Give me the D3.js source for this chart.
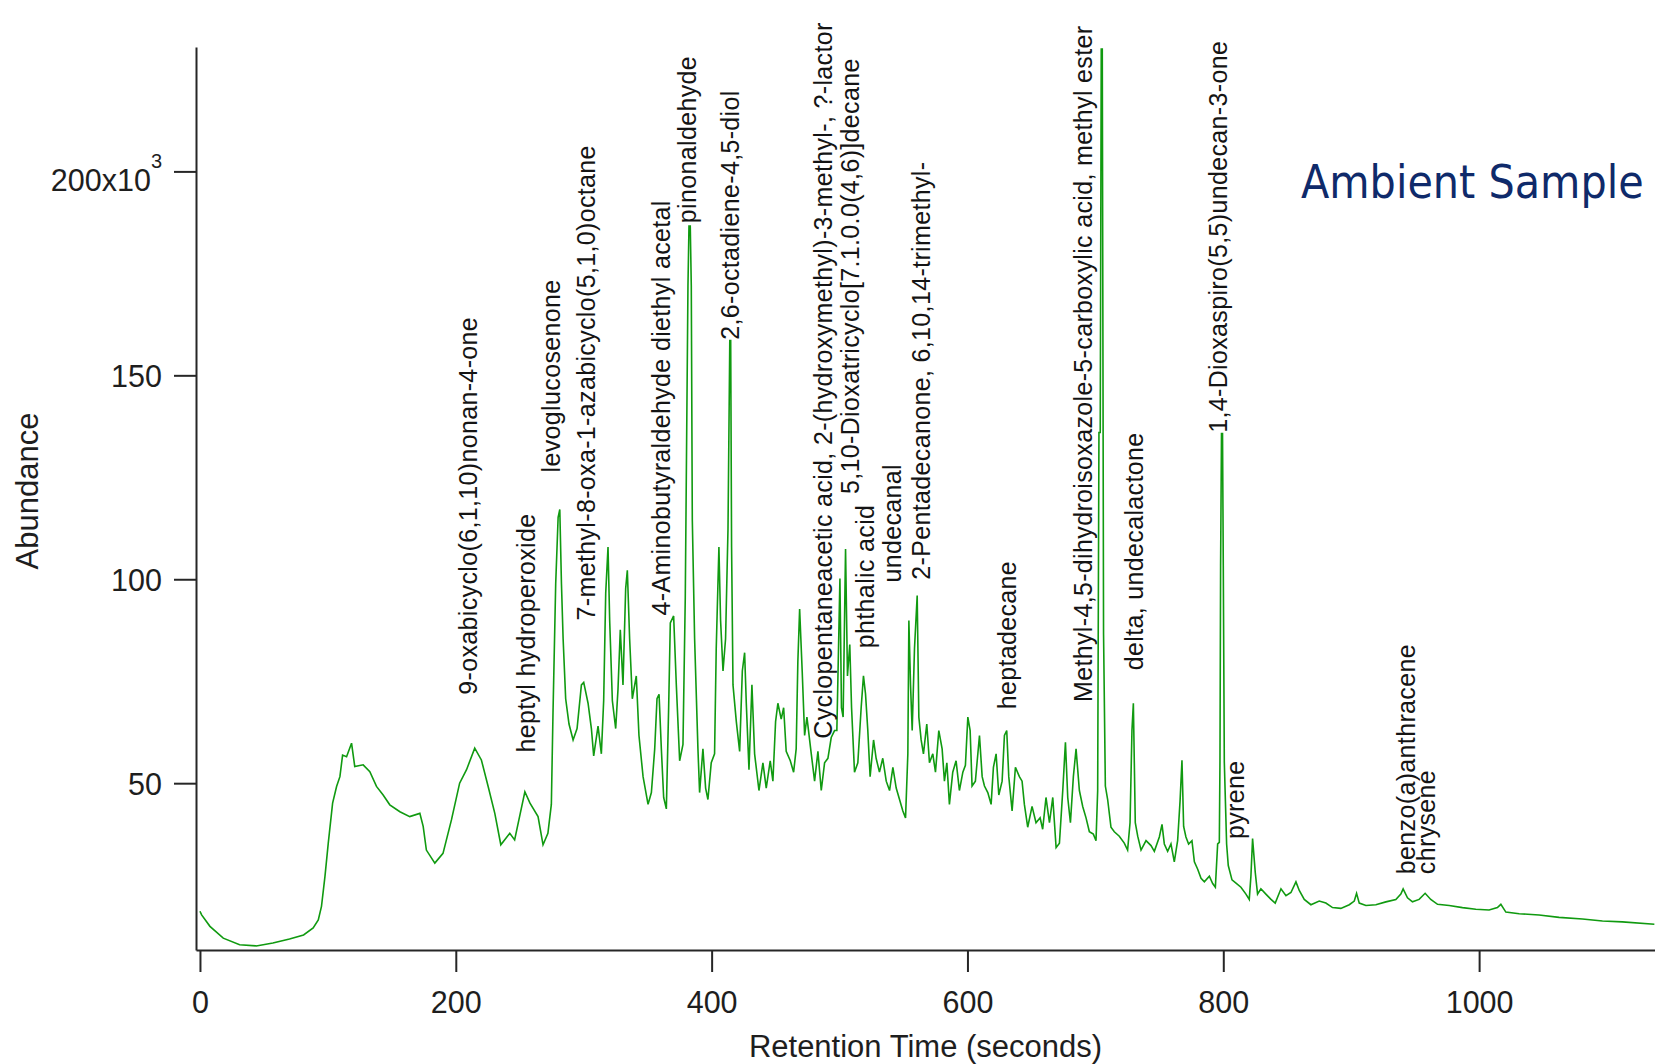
<!DOCTYPE html>
<html>
<head>
<meta charset="utf-8">
<script src="https://cdn.jsdelivr.net/npm/d3@7"></script>
<style>
  html, body { margin: 0; padding: 0; background: #fff; }
  svg { display: block; }
</style>
</head>
<body>
<svg id="chart"></svg>
<script>
// GC chromatogram, ambient sample — retention time (s) vs abundance (x10^3)

const WIDTH = 1655;
const HEIGHT = 1064;
const LINE_COLOR = "#109a10";
const AXIS_COLOR = "#262626";
const FONT = "'Liberation Sans', Arial, sans-serif";

const retentionTime = [
    0, 1.3, 7.8, 18.2, 31, 44, 57, 70, 81, 88.5, 92.5, 95, 97.7, 100.3, 103.7, 106.8, 109.4, 111.5,
    114.6, 118.5, 121, 127.6, 132.8, 138, 143.2, 148.4, 156.3, 164, 171.9, 174.5, 177, 183.6, 190,
    196.6, 203, 208.4, 214.8, 220, 225.3, 230.5, 235.2, 242.2, 246, 250.4, 254, 258, 264.3, 268.2,
    272, 274.7, 276, 278.1, 280, 281.3, 282.6, 283.9, 285.9, 288.5, 291.7, 294.8, 298.2, 300, 303.4,
    306, 307.8, 311.2, 313.8, 315.6, 317.2, 319, 320.3, 322.4, 325, 326.8, 328.6, 330.7, 332.8,
    334.1, 335.9, 338, 341.1, 343.2, 346.4, 350.3, 352.9, 355.5, 357.3, 358.9, 360.7, 362.5, 364.6,
    366.4, 367.7, 370.3, 372.4, 375, 377.6, 379.4, 381.5, 382.3, 383.3, 384.1, 384.9, 386.7, 389.3,
    390.6, 393.2, 395.3, 397.1, 399.7, 402.3, 403.6, 405.7, 407, 408.9, 410.9, 412.8, 414.2, 414.9,
    415.6, 416.7, 419.3, 421.9, 424, 425.8, 427.1, 429.2, 431.5, 433.6, 437, 440.1, 442.7, 445.8,
    447.9, 450, 451.8, 454.4, 456.3, 458.3, 461.5, 464.1, 466.1, 467.4, 468.8, 470.8, 472.7, 474.5,
    477.9, 480.5, 483.1, 485.7, 488.3, 490.9, 493.5, 496.1, 497.9, 500.3, 501.5, 502.8, 504.7, 506.2,
    508, 509.4, 511.7, 514.3, 516.9, 518.7, 520.3, 522.1, 523.9, 526.6, 528.6, 531.2, 533.8, 536.5,
    539.1, 541.7, 544.3, 546.9, 549.5, 551.6, 553.4, 554.2, 555.5, 556.8, 558.6, 560.7, 562, 563.8,
    565.6, 568.2, 570.3, 572.9, 575, 577.6, 580.2, 582, 583.9, 585.9, 588.5, 591.1, 593.7, 596.4,
    598.4, 600.3, 602.1, 603.6, 606.2, 609.4, 611.5, 613.3, 615.9, 618.5, 620.3, 622.4, 624.5, 627.1,
    628.9, 630.7, 632.3, 634.9, 637.5, 640.6, 642.7, 644.5, 647.1, 650.5, 653.6, 656.8, 658.8, 661.4,
    664.1, 666.7, 669.3, 671.9, 674.5, 676.6, 678.4, 680.5, 682.8, 684.9, 687.5, 690.1, 692.7, 695.3,
    698.4, 700.5, 701.8, 702.8, 703.8, 704.6, 705.4, 706.4, 707.8, 709.6, 712.2, 714.8, 718.7, 722.6,
    725.2, 727.1, 728.6, 729.7, 731.2, 733.1, 735.7, 739.6, 743.5, 746.1, 750, 752.1, 753.9, 756.5,
    759.1, 761.7, 764.3, 766.2, 767.7, 769, 770.8, 772.9, 775.5, 777.4, 780, 782.6, 785.2, 789.1,
    791.7, 793.8, 795.6, 796.9, 797.4, 797.9, 798.6, 799.4, 800, 800.8, 802.6, 803.9, 806.8, 810.4,
    813.8, 817.7, 820.3, 821.6, 822.9, 825, 826.8, 829.4, 833.3, 837.3, 840.6, 845.1, 849, 852.9,
    856.8, 859.4, 863.3, 868.5, 875, 880.2, 885.4, 891.9, 898.5, 902.4, 904.2, 906.3, 911.5, 919.3,
    927.1, 934.9, 938.8, 940.6, 944, 947.9, 953.1, 957.8, 962.2, 967.5, 976.6, 987, 997.4, 1007.8,
    1014.3, 1017, 1020.9, 1031.3, 1046.9, 1062.5, 1080.8, 1096.4, 1112, 1137
];

const abundance = [
    18.6, 17.7, 14.9, 12.0, 10.4, 10.1, 10.8, 11.8, 12.8, 14.5, 16.5, 19.8, 27.1, 35.3, 45.1, 49.2, 51.6, 56.9,
    56.5, 59.8, 54.1, 54.5, 52.8, 49.2, 47.1, 44.7, 43.0, 41.8, 42.6, 39.4, 33.6, 30.4, 32.8,
    41.0, 50, 53.3, 58.6, 55.7, 49.2, 42.6, 34.9, 37.7, 36.1, 42.6, 47.9, 45.1, 41.8, 34.9,
    37.7, 44.8, 67.4, 98.9, 115.2, 117.1, 98.9, 85.4, 70.7, 64.5, 60.6, 63.4, 74.1, 74.7, 69.6,
    63.4, 56.7, 64, 57.2, 70.2, 96.6, 107.9, 89.9, 70.2, 63.4, 73, 87.6, 74.1, 97.7,
    102.2, 85.4, 70.7, 76.3, 61.7, 51.6, 44.8, 47.7, 58.4, 70.7, 71.8, 58.4, 46.5, 43.7,
    68.5, 89.3, 91, 74.1, 55.5, 59.5, 95.5, 172, 186.6, 186.6, 172, 114.6, 85.4, 58.4,
    47.7, 58.4, 48.8, 46, 55, 57.2, 83.1, 107.9, 89.9, 77.5, 85.4, 112.4, 158.5, 158.5,
    107.9, 74.1, 65.1, 57.8, 77.5, 82, 69.6, 53.3, 74.1, 57.2, 48.2, 55, 48.8, 55.5,
    50.5, 65.1, 69.6, 65.7, 68.5, 57.8, 55.5, 52.7, 58.4, 79.7, 92.7, 77.5, 61.7, 66.2,
    57.2, 50.5, 57.8, 48.2, 55, 56.1, 61.2, 62.9, 62.9, 100.2, 68.5, 66.2, 107.4, 76.3,
    84, 68.5, 52.7, 55, 68.5, 76.3, 71.9, 62.9, 51.6, 60.6, 56.1, 52.7, 56.1, 50.5,
    48.2, 53.9, 48.8, 46, 43.2, 41.5, 57.2, 89.9, 74.1, 62.9, 83.1, 96, 66.2, 60.6,
    57.2, 64.5, 55, 57.2, 52.7, 62.9, 58.4, 50.5, 55, 44.8, 52.7, 55.5, 48.2, 52.7,
    54.4, 66.2, 62.9, 49.3, 50.5, 61.7, 51.6, 49.3, 47.7, 44.8, 53.9, 57.2, 47.1, 50.5,
    61.7, 62.9, 51.6, 43.2, 53.9, 51.6, 50.5, 44.8, 39.2, 44.3, 40.3, 41.5, 38.7, 46.5,
    40.3, 46.5, 34.2, 35.3, 48.2, 60, 46.5, 40.3, 51.6, 58.4, 48.2, 44.3, 41.5, 38.1,
    37.5, 35.9, 48.2, 136, 136, 230, 230, 86.5, 49.3, 46, 39.2, 38.1, 37, 35.3,
    33.6, 40.3, 62.9, 69.6, 40.3, 37, 33.6, 35.9, 34.7, 33.3, 36.8, 39.9, 35.1, 33.3,
    35.1, 30.7, 35.9, 45.6, 55.6, 39.4, 36.8, 35.1, 35.9, 30.7, 28.9, 26.7, 25.8, 27.2,
    25.4, 24.5, 35.1, 35.5, 55.2, 103.3, 135.7, 135.7, 103.3, 55.2, 35.1, 29.8, 26.3, 25.4,
    24.5, 22.8, 21.5, 27.2, 36.4, 28.1, 22.8, 24.1, 22.8, 21.5, 20.6, 24.1, 22.4, 23.2,
    25.8, 23.7, 21.5, 20.2, 21.1, 20.6, 19.5, 19.3, 20.2, 21.1, 23, 20.6, 20, 20.2,
    20.9, 21.5, 22.8, 24.1, 21.9, 20.9, 21.5, 23, 21.5, 20.3, 20, 19.5, 19.1, 18.9,
    19.5, 20.3, 18.4, 18, 17.7, 17.1, 16.7, 16.2, 16, 15.4
];

// Compound tags: name, retention time of the tag, abundance where the tag text starts
const peakNames = [
    "9-oxabicyclo(6,1,10)nonan-4-one",
    "heptyl hydroperoxide",
    "levoglucosenone",
    "7-methyl-8-oxa-1-azabicyclo(5,1,0)octane",
    "4-Aminobutyraldehyde diethyl acetal",
    "pinonaldehyde",
    "2,6-octadiene-4,5-diol",
    "Cyclopentaneacetic acid, 2-(hydroxymethyl)-3-methyl-, ?-lactor",
    "5,10-Dioxatricyclo[7.1.0.0(4,6)]decane",
    "phthalic acid",
    "undecanal",
    "2-Pentadecanone, 6,10,14-trimethyl-",
    "heptadecane",
    "Methyl-4,5-dihydroisoxazole-5-carboxylic acid, methyl ester",
    "delta, undecalactone",
    "1,4-Dioxaspiro(5,5)undecan-3-one",
    "pyrene",
    "benzo(a)anthracene",
    "chrysene"
];
const peakTimes = [
    209.9, 255.4, 274.8, 302.6, 361, 381.5, 415.1, 487.8, 508.7, 520.3,
    541.8, 564.5, 631.7, 691.1, 730.8, 796.7, 810, 943.6, 959.3
];
const peakTagLevels = [
    71.7, 57.5, 126.2, 89.9, 91.1, 187.3, 158.7, 60.9, 120.9, 83.1,
    99.2, 99.9, 68.1, 69.9, 77.7, 135.9, 36.3, 27.7, 27.7
];

const xTicks = [0, 200, 400, 600, 800, 1000];
const yTicks = [50, 100, 150, 200];

const svg = d3.select("#chart")
    .attr("width", WIDTH)
    .attr("height", HEIGHT)
    .attr("font-family", FONT);

const x = d3.scaleLinear()
    .domain([-3.1, 1137.5])
    .range([196, 1655]);

const y = d3.scaleLinear()
    .domain([9.1, 230.5])
    .range([950, 47]);

svg.append("defs").append("clipPath")
    .attr("id", "plot-clip")
    .append("rect")
    .attr("x", 196).attr("y", 47)
    .attr("width", 1655 - 196).attr("height", 950 - 47);

// Trace
const points = retentionTime.map((t, i) => [t, abundance[i]]);

svg.append("path")
    .datum(points)
    .attr("clip-path", "url(#plot-clip)")
    .attr("fill", "none")
    .attr("stroke", LINE_COLOR)
    .attr("stroke-width", 1.6)
    .attr("stroke-linejoin", "miter")
    .attr("d", d3.line().x(d => x(d[0])).y(d => y(d[1])));

// Axes
const xAxis = svg.append("g")
    .attr("transform", "translate(0,950)")
    .call(d3.axisBottom(x)
        .tickValues(xTicks)
        .tickFormat(d3.format("d"))
        .tickSize(22)
        .tickSizeOuter(0)
        .tickPadding(19));

const yAxis = svg.append("g")
    .attr("transform", "translate(196,0)")
    .call(d3.axisLeft(y)
        .tickValues(yTicks)
        .tickFormat(d3.format("d"))
        .tickSize(22)
        .tickSizeOuter(0)
        .tickPadding(12));

[xAxis, yAxis].forEach(g => {
    g.select(".domain").attr("stroke", AXIS_COLOR).attr("stroke-width", 2);
    g.selectAll(".tick line").attr("stroke", AXIS_COLOR).attr("stroke-width", 2);
    g.selectAll(".tick text")
        .attr("font-family", FONT)
        .attr("font-size", "30.5px")
        .attr("fill", "#1e1e1e");
});

yAxis.selectAll(".tick text").attr("dy", "0.38em");

// top label carries the x10^3 multiplier
yAxis.selectAll(".tick text")
    .filter(d => d === 200)
    .text(null)
    .attr("dy", "0.64em")
    .call(t => {
        t.append("tspan").text("200x10");
        t.append("tspan")
            .attr("font-size", "20px")
            .attr("dy", "-23")
            .text("3");
    });

// Axis titles
svg.append("text")
    .attr("x", (196 + 1655) / 2)
    .attr("y", 1057)
    .attr("text-anchor", "middle")
    .attr("font-size", "31px")
    .attr("fill", "#1e1e1e")
    .text("Retention Time (seconds)");

svg.append("text")
    .attr("transform", "translate(37.5,491) rotate(-90)")
    .attr("text-anchor", "middle")
    .attr("font-size", "31px")
    .attr("fill", "#1e1e1e")
    .text("Abundance");

// Compound tags
svg.append("g")
    .selectAll("text")
    .data(peakNames)
    .join("text")
    .attr("transform", (d, i) => `translate(${x(peakTimes[i])},${y(peakTagLevels[i])}) rotate(-90)`)
    .attr("dy", "0.33em")
    .attr("text-anchor", "start")
    .attr("font-size", "25px")
    .attr("letter-spacing", "0.35px")
    .attr("fill", "#141414")
    .text(d => d);

// Sample title
svg.append("text")
    .attr("x", 1301)
    .attr("y", 198)
    .attr("font-family", "'DejaVu Sans Condensed', 'DejaVu Sans', sans-serif")
    .attr("font-stretch", "condensed")
    .attr("font-size", "46px")
    .attr("fill", "#0f2a6a")
    .text("Ambient Sample");
</script>
</body>
</html>
